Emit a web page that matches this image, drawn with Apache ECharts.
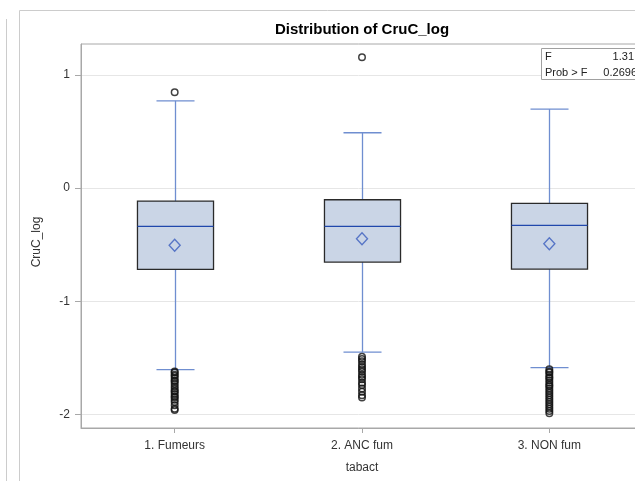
<!DOCTYPE html>
<html>
<head>
<meta charset="utf-8">
<script src="https://cdn.jsdelivr.net/npm/echarts@6/dist/echarts.min.js"></script>
<style>html,body{margin:0;padding:0;background:#fff;}#c{width:635px;height:481px;}</style>
</head>
<body>
<div id="c"></div>
<script>
const categories = ['1. Fumeurs', '2. ANC fum', '3. NON fum'];
// [whisker low, Q1, median, Q3, whisker high]
const boxStats = [
  [-1.605, -0.718, -0.338, -0.115, 0.771],
  [-1.449, -0.654, -0.338, -0.103, 0.489],
  [-1.587, -0.716, -0.330, -0.135, 0.698]
];
const means = [-0.506, -0.448, -0.492];
const outliersFumeurs = [0.847, -1.62, -1.63, -1.65, -1.66, -1.68, -1.70, -1.71, -1.73, -1.75, -1.77, -1.79, -1.80, -1.82, -1.84, -1.85, -1.87, -1.89, -1.92, -1.95, -1.96];
const outliersAnc = [1.155, -1.49, -1.51, -1.53, -1.56, -1.58, -1.60, -1.62, -1.65, -1.67, -1.69, -1.72, -1.74, -1.77, -1.80, -1.83, -1.85];
const outliersNon = [-1.60, -1.62, -1.63, -1.65, -1.67, -1.68, -1.70, -1.72, -1.74, -1.75, -1.77, -1.79, -1.81, -1.83, -1.85, -1.87, -1.89, -1.91, -1.93, -1.95, -1.97, -1.99];
const yTicks = [-2, -1, 0, 1];
const fStat = ['F', '1.31'];
const probF = ['Prob > F', '0.2696'];
const titleText = 'Distribution of CruC_log';

const FONT = '"Liberation Sans", Arial, sans-serif';
const chart = echarts.init(document.getElementById('c'), null, {renderer: 'canvas'});

const boxData = boxStats.map((s, i) => [i].concat(s));
const outlierData = [];
[outliersFumeurs, outliersAnc, outliersNon].forEach((arr, i) => {
  arr.forEach(v => outlierData.push([i, v]));
});
const meanData = means.map((m, i) => [i, m]);

function renderBox(params, api) {
  const x = api.value(0);
  const lo = api.coord([x, api.value(1)]);
  const q1 = api.coord([x, api.value(2)]);
  const med = api.coord([x, api.value(3)]);
  const q3 = api.coord([x, api.value(4)]);
  const hi = api.coord([x, api.value(5)]);
  const band = api.size([1, 0])[0];
  const bw = band * 0.406;
  const cw = bw / 2;
  const cx = Math.round(lo[0]) + 0.5;
  const whisk = {stroke: '#6F8ED0', lineWidth: 1.3};
  return {
    type: 'group',
    children: [
      {type: 'line', shape: {x1: cx, y1: hi[1], x2: cx, y2: q3[1]}, style: whisk},
      {type: 'line', shape: {x1: cx, y1: q1[1], x2: cx, y2: lo[1]}, style: whisk},
      {type: 'line', shape: {x1: cx - cw / 2, y1: hi[1], x2: cx + cw / 2, y2: hi[1]}, style: whisk},
      {type: 'line', shape: {x1: cx - cw / 2, y1: lo[1], x2: cx + cw / 2, y2: lo[1]}, style: whisk},
      {type: 'rect', shape: {x: cx - bw / 2, y: q3[1], width: bw, height: q1[1] - q3[1]},
        style: {fill: '#CAD5E6', stroke: '#2a2a2a', lineWidth: 1.3}},
      {type: 'line', shape: {x1: cx - bw / 2, y1: med[1], x2: cx + bw / 2, y2: med[1]},
        style: {stroke: '#2148AC', lineWidth: 1.3}}
    ]
  };
}

chart.setOption({
  animation: false,
  textStyle: {fontFamily: FONT},
  grid: {left: 81, top: 44, width: 562, bottom: 53, outerBoundsMode: 'none', containLabel: false,
    show: true, borderColor: '#A8A8A8', borderWidth: 1, backgroundColor: '#fff'},
  xAxis: {
    type: 'category', data: categories, boundaryGap: true,
    name: 'tabact', nameLocation: 'middle', nameGap: 34,
    nameTextStyle: {fontFamily: FONT, fontSize: 12, color: '#333'},
    axisLine: {show: true, onZero: false, lineStyle: {color: '#A8A8A8'}},
    axisTick: {show: true, alignWithLabel: true, length: 5, lineStyle: {color: '#A8A8A8'}},
    axisLabel: {fontFamily: FONT, fontSize: 12, color: '#333', margin: 12},
    splitLine: {show: false}
  },
  yAxis: {
    type: 'value', min: -2.12, max: 1.273,
    name: 'CruC_log', nameLocation: 'middle', nameGap: 38, nameRotate: 90,
    nameTextStyle: {fontFamily: FONT, fontSize: 12, color: '#333', padding: [0, 0, 0, -12]},
    axisLine: {show: true, onZero: false, lineStyle: {color: '#A8A8A8'}},
    axisTick: {show: true, length: 6, customValues: yTicks, lineStyle: {color: '#A8A8A8'}},
    axisLabel: {fontFamily: FONT, fontSize: 12, color: '#333', margin: 11, customValues: yTicks},
    splitLine: {show: true, lineStyle: {color: '#E6E6E6'}}
  },
  graphic: [
    {type: 'line', shape: {x1: 6.5, y1: 19, x2: 6.5, y2: 481}, style: {stroke: '#CCCCCC', lineWidth: 1}, silent: true},
    {type: 'rect', shape: {x: 19.5, y: 10.5, width: 700, height: 600}, style: {fill: 'none', stroke: '#CCCCCC', lineWidth: 1}, silent: true, z: -10},
    {type: 'text', x: 362, y: 30, z: 100, style: {text: titleText, font: 'bold 15px ' + FONT, fill: '#000', align: 'center', verticalAlign: 'middle'}},
    {type: 'rect', z: 100, shape: {x: 541.5, y: 48.5, width: 110, height: 31}, style: {fill: '#fff', stroke: '#A0A0A0', lineWidth: 1}},
    {type: 'text', z: 101, x: 545, y: 57, style: {text: fStat[0], font: '11px ' + FONT, fill: '#222', verticalAlign: 'middle'}},
    {type: 'text', z: 101, x: 634, y: 57, style: {text: fStat[1], font: '11px ' + FONT, fill: '#222', align: 'right', verticalAlign: 'middle'}},
    {type: 'text', z: 101, x: 545, y: 73, style: {text: probF[0], font: '11px ' + FONT, fill: '#222', verticalAlign: 'middle'}},
    {type: 'text', z: 101, x: 637, y: 73, style: {text: probF[1], font: '11px ' + FONT, fill: '#222', align: 'right', verticalAlign: 'middle'}}
  ],
  series: [
    {type: 'custom', renderItem: renderBox, data: boxData, encode: {x: 0, y: [1, 2, 3, 4, 5]}, z: 2},
    {type: 'scatter', data: meanData, symbol: 'diamond', symbolSize: [11, 12],
      itemStyle: {color: 'rgba(0,0,0,0)', borderColor: '#3A5DBE', borderWidth: 1.4}, z: 3},
    {type: 'scatter', data: outlierData, symbol: 'circle', symbolSize: 6.5,
      itemStyle: {color: 'rgba(0,0,0,0)', borderColor: '#111', borderWidth: 1.5}, z: 4}
  ]
});
</script>
</body>
</html>
